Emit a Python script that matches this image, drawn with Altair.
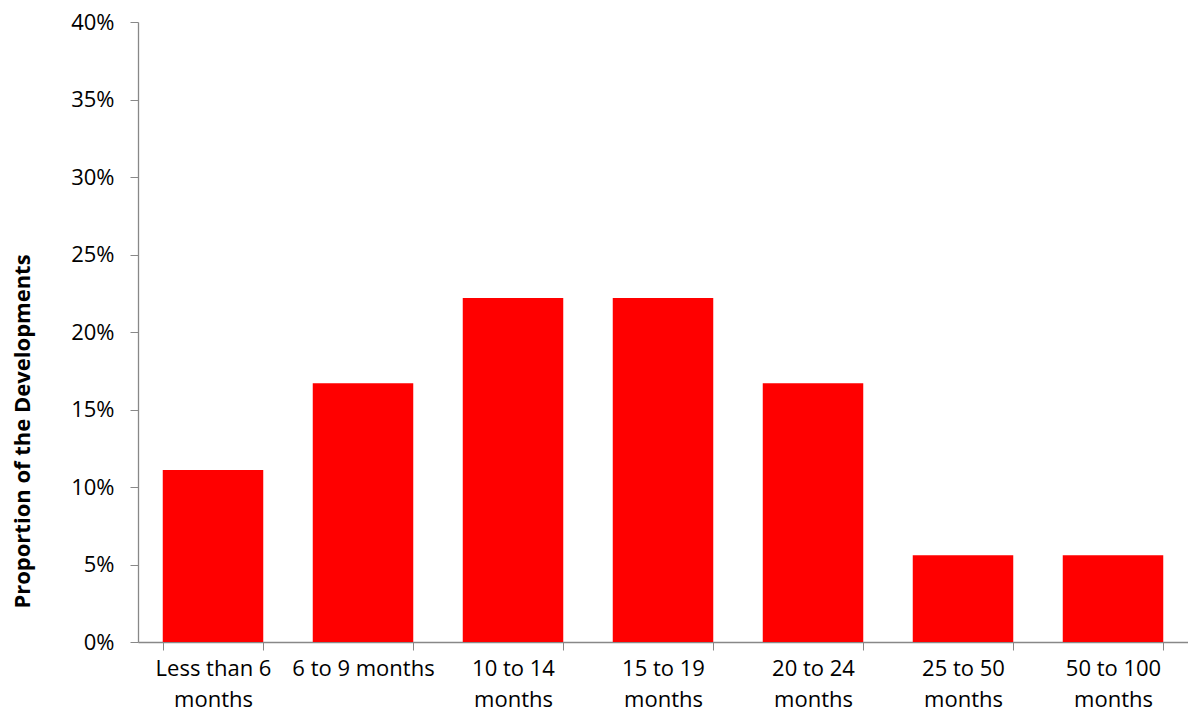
import altair as alt
import pandas as pd

categories = ["Less than 6\nmonths", "6 to 9 months", "10 to 14\nmonths", "15 to 19\nmonths",
              "20 to 24\nmonths", "25 to 50\nmonths", "50 to 100\nmonths"]
proportions = [0.111, 0.167, 0.222, 0.222, 0.167, 0.056, 0.056]

df = pd.DataFrame({"category": categories, "proportion": proportions})

FONT = "Open Sans"

chart = alt.Chart(df).mark_bar(color="#FF0000").encode(
    x=alt.X("category:N", sort=categories, title=None,
            scale=alt.Scale(paddingInner=0.33, paddingOuter=0.165),
            axis=alt.Axis(labelAngle=0, tickBand="extent", labelExpr="split(datum.label, '\\n')",
                          labelFontSize=22, labelFont=FONT, labelColor="#000000",
                          labelPadding=8, labelLineHeight=31, labelBaseline="top",
                          domainColor="#888888", tickColor="#888888", tickSize=8, domainWidth=1.3)),
    y=alt.Y("proportion:Q", title="Proportion of the Developments",
            scale=alt.Scale(domain=[0, 0.4], nice=False),
            axis=alt.Axis(format=".0%", values=[0, 0.05, 0.1, 0.15, 0.2, 0.25, 0.3, 0.35, 0.4],
                          grid=False, labelFontSize=22, labelFont=FONT, labelColor="#000000",
                          labelPadding=16, tickSize=8, tickColor="#888888", domainColor="#888888",
                          domainWidth=1.3,
                          titleFont=FONT, titleFontSize=22, titleFontWeight="bold", titleColor="#000000",
                          titleAngle=270, titleX=-116, titleY=409, titleBaseline="middle",
                          titleAlign="center")),
).properties(
    width=1050, height=620,
    padding={"left": 130, "top": 14, "right": 0, "bottom": 70},
    autosize=alt.AutoSizeParams(type="none"),
).configure_view(stroke=None)

chart.save("out.html", embed_options={"renderer": "svg", "actions": False})
